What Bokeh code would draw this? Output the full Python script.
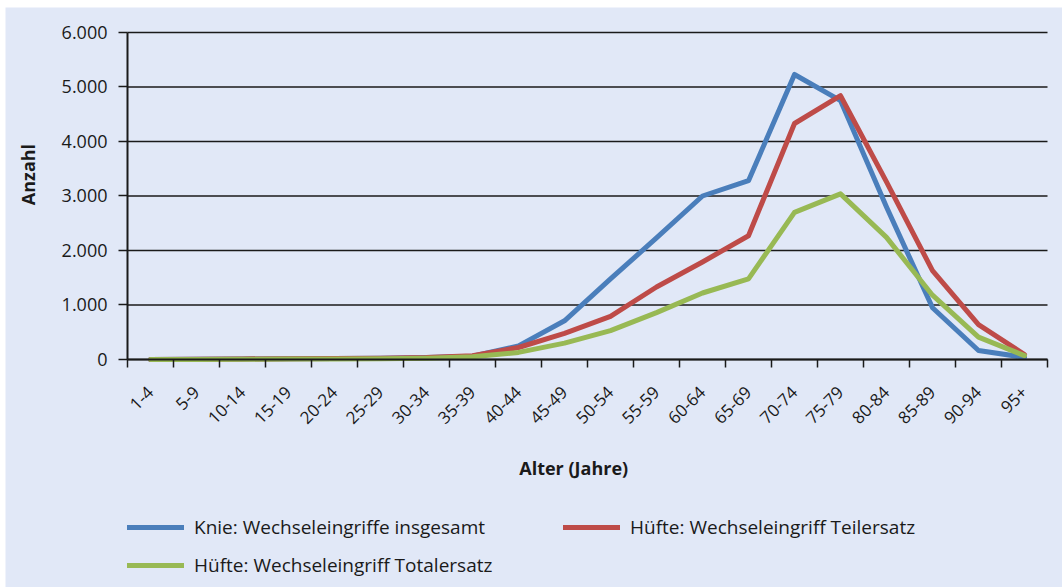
from math import pi
from bokeh.plotting import figure
from bokeh.models import Range1d, FixedTicker, Legend, LegendItem, Label, LinearAxis
from bokeh.embed import file_html
from bokeh.resources import INLINE

categories = ["1-4", "5-9", "10-14", "15-19", "20-24", "25-29", "30-34", "35-39",
              "40-44", "45-49", "50-54", "55-59", "60-64", "65-69", "70-74", "75-79",
              "80-84", "85-89", "90-94", "95+"]
knie = [0, 5, 10, 15, 20, 25, 35, 60, 250, 710, 1480, 2230, 3000, 3280, 5230, 4750, 2800, 950, 165, 40]
teil = [0, 5, 10, 15, 20, 25, 35, 70, 220, 480, 790, 1330, 1790, 2270, 4330, 4840, 3260, 1630, 640, 90]
total = [0, 2, 5, 8, 10, 15, 25, 50, 130, 300, 530, 860, 1220, 1480, 2700, 3040, 2240, 1180, 410, 70]
series_names = ["Knie: Wechseleingriffe insgesamt", "Hüfte: Wechseleingriff Teilersatz",
                "Hüfte: Wechseleingriff Totalersatz"]
y_ticks = [0, 1000, 2000, 3000, 4000, 5000, 6000]
y_tick_labels = ["0", "1.000", "2.000", "3.000", "4.000", "5.000", "6.000"]
x_title = "Alter (Jahre)"
y_title = "Anzahl"

BG = "#E1E8F7"
FONT = "Open Sans"
INK = "#1a1a1a"
COLORS = ["#4A7EBB", "#BE4B48", "#98B954"]

n = len(categories)
x = list(range(n))
x_lo, x_hi = -0.5, n - 0.5

# frame covers the whole panel; axes are pinned at data positions
p = figure(width=1062, height=587,
           x_range=Range1d(-3.152, 19.826), y_range=Range1d(-4183.5, 6458.7),
           x_axis_location=None, y_axis_location=None,
           output_backend="svg", toolbar_location=None,
           min_border_left=5, min_border_right=0, min_border_top=7, min_border_bottom=0,
           background_fill_color=BG, border_fill_color="white", outline_line_color=None)
p.xgrid.visible = False
p.ygrid.visible = False

# horizontal grid lines at the y ticks, spanning the category area
p.segment(x0=[x_lo] * len(y_ticks), x1=[x_hi] * len(y_ticks), y0=y_ticks, y1=y_ticks,
          line_color=INK, line_width=1.5)

rs = []
for vals, col in zip([knie, teil, total], COLORS):
    rs.append(p.line(x, vals, line_color=col, line_width=5, line_cap="round", line_join="round"))

# y axis
yax = LinearAxis(fixed_location=x_lo, bounds=(0, 6000), ticker=FixedTicker(ticks=y_ticks))
yax.major_label_overrides = {t: l for t, l in zip(y_ticks, y_tick_labels)}
yax.major_tick_out = 9
yax.major_tick_in = 0
yax.major_tick_line_width = 1.5
yax.major_tick_line_color = INK
yax.minor_tick_line_color = None
yax.axis_line_width = 2
yax.axis_line_color = INK
yax.major_label_standoff = 11
yax.major_label_text_font = FONT
yax.major_label_text_font_size = "18px"
yax.major_label_text_color = INK
p.add_layout(yax, "left")

# x axis
xax = LinearAxis(fixed_location=0, bounds=(x_lo, x_hi),
                 ticker=FixedTicker(ticks=x, minor_ticks=[i - 0.5 for i in range(n + 1)]))
xax.major_label_overrides = {i: c for i, c in zip(x, categories)}
xax.major_label_orientation = pi / 4
xax.major_tick_line_color = None
xax.major_tick_out = 8
xax.major_tick_in = 0
xax.minor_tick_out = 8
xax.minor_tick_in = 0
xax.minor_tick_line_color = INK
xax.minor_tick_line_width = 1.5
xax.axis_line_width = 2
xax.axis_line_color = INK
xax.major_label_standoff = 22
xax.major_label_text_font = FONT
xax.major_label_text_font_size = "17px"
xax.major_label_text_color = INK
p.add_layout(xax, "below")

# axis titles
p.add_layout(Label(x=-2.66, y=3394, text=y_title, angle=pi / 2, text_align="center",
                   text_baseline="middle", text_font=FONT, text_font_style="bold",
                   text_font_size="18px", text_color=INK))
p.add_layout(Label(x=9.2, y=-1990, text=x_title, text_align="center",
                   text_baseline="middle", text_font=FONT, text_font_style="bold",
                   text_font_size="18px", text_color=INK))

# legends
def style(leg):
    leg.background_fill_alpha = 0
    leg.border_line_color = None
    leg.padding = 0
    leg.margin = 0
    leg.glyph_width = 57
    leg.glyph_height = 28
    leg.label_height = 28
    leg.spacing = 10
    leg.label_standoff = 10
    leg.label_text_font = FONT
    leg.label_text_font_size = "19px"
    leg.label_text_color = INK

leg1 = Legend(items=[LegendItem(label=series_names[0], renderers=[rs[0]]),
                     LegendItem(label=series_names[2], renderers=[rs[2]])],
              location=(122, 8))
leg2 = Legend(items=[LegendItem(label=series_names[1], renderers=[rs[1]])],
              location=(558, 46))
style(leg1)
style(leg2)
p.add_layout(leg1)
p.add_layout(leg2)

open("out.html", "w").write(file_html(p, INLINE))
